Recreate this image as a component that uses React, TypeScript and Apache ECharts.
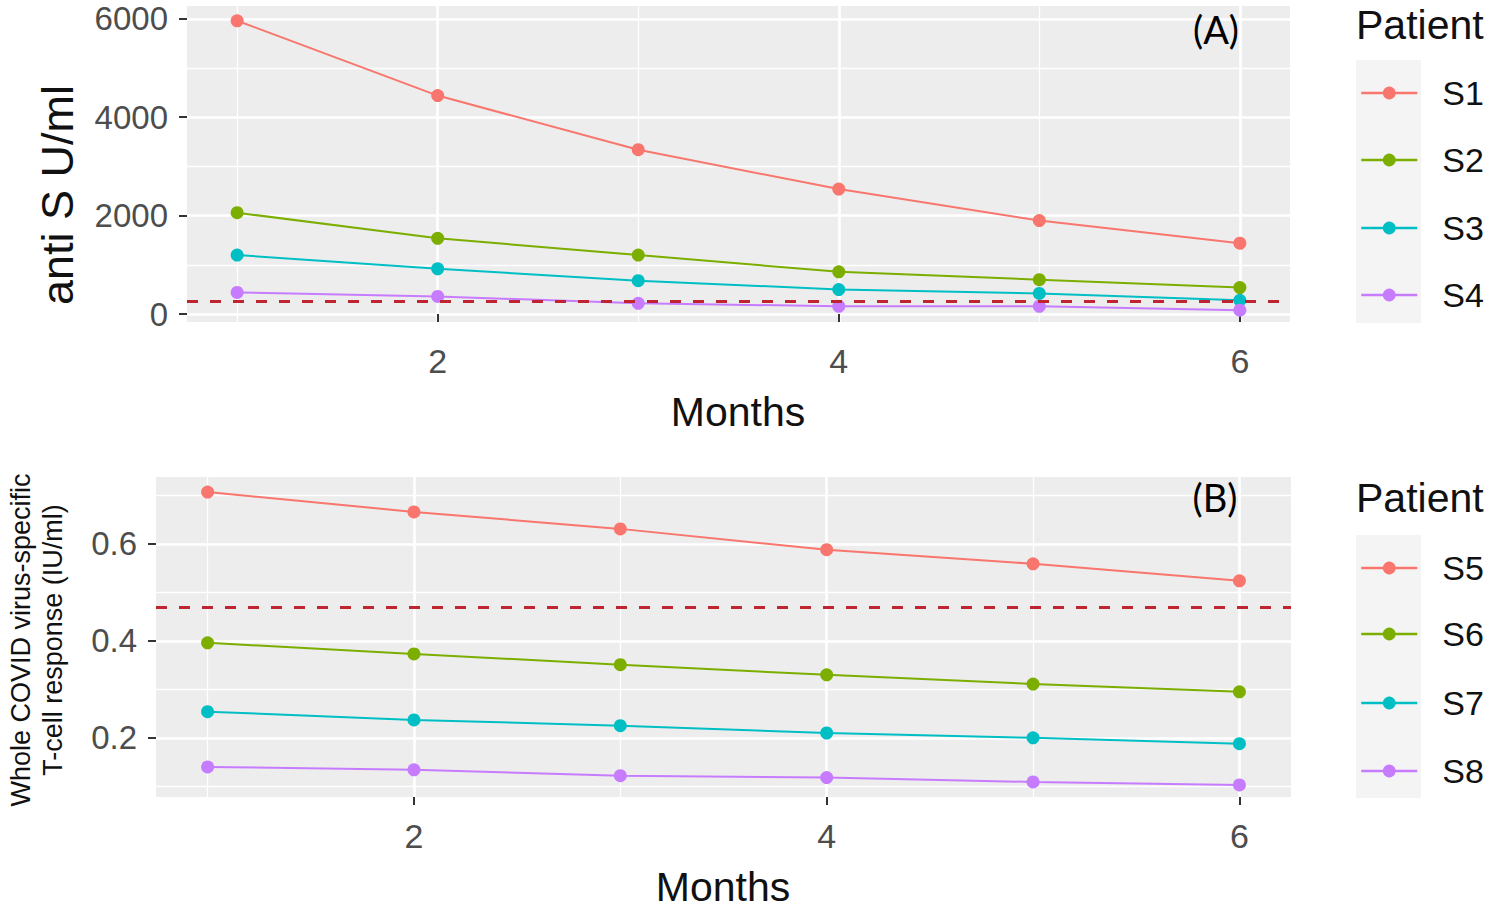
import React, { useEffect, useRef } from "react";
import * as echarts from "echarts";

// ---------- data ----------
const months = [1, 2, 3, 4, 5, 6];

const topNames = ["S1", "S2", "S3", "S4"];
const s1Values = [5960, 4440, 3340, 2540, 1900, 1440];
const s2Values = [2060, 1540, 1200, 860, 700, 540];
const s3Values = [1200, 920, 680, 500, 420, 280];
const s4Values = [440, 360, 220, 160, 160, 80];
const topThreshold = 264;

const bottomNames = ["S5", "S6", "S7", "S8"];
const s5Values = [0.707, 0.666, 0.631, 0.588, 0.559, 0.524];
const s6Values = [0.396, 0.373, 0.351, 0.330, 0.311, 0.295];
const s7Values = [0.254, 0.237, 0.225, 0.210, 0.200, 0.188];
const s8Values = [0.140, 0.134, 0.122, 0.118, 0.109, 0.103];
const bottomThreshold = 0.47;

const xMajorTicks = [2, 4, 6];
const xMinorTicks = [1, 3, 5];
const yTopMajorTicks = [0, 2000, 4000, 6000];
const yTopMinorTicks = [1000, 3000, 5000];
const yBottomMajorTicks = [0.2, 0.4, 0.6];
const yBottomMinorTicks = [0.1, 0.3, 0.5, 0.7];

const palette = ["#F8766D", "#7CAE00", "#00BFC4", "#C77CFF"];

// ---------- styles ----------
const FONT = "'Liberation Sans', Arial, sans-serif";
const PANEL_BG = "#EDEDED";
const KEY_BG = "#F4F4F4";
const TICK_COLOR = "#4D4D4D";
const DASH_COLOR = "#BE2530";

function majorX(gridIndex: number) {
  return {
    type: "value",
    gridIndex,
    min: 0.75,
    max: 6.25,
    axisLine: { show: false },
    axisTick: { show: true, length: 8, customValues: xMajorTicks, lineStyle: { color: "#333", width: 2 } },
    axisLabel: { show: true, customValues: xMajorTicks, fontSize: 34, color: TICK_COLOR, fontFamily: FONT, margin: 22 },
    splitLine: { show: true, lineStyle: { color: "#FFFFFF", width: 2.6 } },
  };
}
function minorX(gridIndex: number) {
  return {
    type: "value",
    gridIndex,
    min: 0.75,
    max: 6.25,
    axisLine: { show: false },
    axisTick: { show: false, customValues: xMinorTicks },
    axisLabel: { show: false, customValues: xMinorTicks },
    splitLine: { show: true, lineStyle: { color: "#FFFFFF", width: 1.3 } },
  };
}
function majorY(gridIndex: number, min: number, max: number, ticks: number[], fmt: (v: number) => string) {
  return {
    type: "value",
    gridIndex,
    min,
    max,
    axisLine: { show: false },
    axisTick: { show: true, length: 8, customValues: ticks, lineStyle: { color: "#333", width: 2 } },
    axisLabel: { show: true, customValues: ticks, fontSize: 33, color: TICK_COLOR, fontFamily: FONT, margin: 19, formatter: fmt },
    splitLine: { show: true, lineStyle: { color: "#FFFFFF", width: 2.6 } },
  };
}
function minorY(gridIndex: number, min: number, max: number, ticks: number[]) {
  return {
    type: "value",
    gridIndex,
    min,
    max,
    axisLine: { show: false },
    axisTick: { show: false, customValues: ticks },
    axisLabel: { show: false, customValues: ticks },
    splitLine: { show: true, lineStyle: { color: "#FFFFFF", width: 1.3 } },
  };
}

function makeSeries(name: string, values: number[], color: string, axisIndex: number, threshold: number | null) {
  const s: any = {
    type: "line",
    name,
    xAxisIndex: axisIndex,
    yAxisIndex: axisIndex,
    data: months.map((m, i) => [m, values[i]]),
    symbol: "circle",
    symbolSize: 13,
    showSymbol: true,
    lineStyle: { color, width: 2 },
    itemStyle: { color },
    z: 3,
  };
  if (threshold !== null) {
    s.markLine = {
      silent: true,
      symbol: "none",
      label: { show: false },
      lineStyle: { type: [11, 12], color: DASH_COLOR, width: 3 },
      data: [{ yAxis: threshold }],
    };
  }
  return s;
}

const topKeyY = [93, 160, 228, 295];
const bottomKeyY = [568, 634, 703, 771];

function makeLegend(name: string, y: number) {
  return {
    data: [name],
    left: 1360,
    top: y - 17,
    padding: 0,
    itemWidth: 56,
    itemHeight: 16,
    selectedMode: false,
    lineStyle: { width: 2.5 },
    textStyle: { fontSize: 34, color: "#111", fontFamily: FONT, padding: [0, 0, 0, 20] },
  };
}

export default function App() {
  const ref = useRef<HTMLDivElement>(null);

  useEffect(() => {
    if (!ref.current) return;
    const chart = echarts.init(ref.current, null, { renderer: "svg" });

    const topValues = [s1Values, s2Values, s3Values, s4Values];
    const bottomValues = [s5Values, s6Values, s7Values, s8Values];

    const series: any[] = [];
    topNames.forEach((n, i) => series.push(makeSeries(n, topValues[i], palette[i], 0, i === 0 ? topThreshold : null)));
    bottomNames.forEach((n, i) => series.push(makeSeries(n, bottomValues[i], palette[i], 1, i === 0 ? bottomThreshold : null)));

    const legends = [
      ...topNames.map((n, i) => makeLegend(n, topKeyY[i])),
      ...bottomNames.map((n, i) => makeLegend(n, bottomKeyY[i])),
    ];

    const option: any = {
      animation: false,
      backgroundColor: "#FFFFFF",
      grid: [
        { left: 187, top: 6, width: 1103, height: 316, show: true, backgroundColor: PANEL_BG, borderWidth: 0 },
        { left: 156, top: 477, width: 1135, height: 320, show: true, backgroundColor: PANEL_BG, borderWidth: 0 },
      ],
      xAxis: [majorX(0), majorX(1), minorX(0), minorX(1)],
      yAxis: [
        majorY(0, -160, 6260, yTopMajorTicks, (v: number) => String(v)),
        majorY(1, 0.078, 0.738, yBottomMajorTicks, (v: number) => v.toFixed(1)),
        minorY(0, -160, 6260, yTopMinorTicks),
        minorY(1, 0.078, 0.738, yBottomMinorTicks),
      ],
      legend: legends,
      series,
      graphic: [
        { type: "rect", shape: { x: 1356, y: 60, width: 65, height: 263 }, style: { fill: KEY_BG }, z: -1 },
        { type: "rect", shape: { x: 1356, y: 535, width: 65, height: 263 }, style: { fill: KEY_BG }, z: -1 },
        { type: "text", x: 1356, y: 25, style: { text: "Patient", fontSize: 41, fontFamily: FONT, fill: "#111", align: "left", verticalAlign: "middle" } },
        { type: "text", x: 1356, y: 498, style: { text: "Patient", fontSize: 41, fontFamily: FONT, fill: "#111", align: "left", verticalAlign: "middle" } },
        { type: "text", x: 738, y: 412, style: { text: "Months", fontSize: 41, fontFamily: FONT, fill: "#111", align: "center", verticalAlign: "middle" } },
        { type: "text", x: 723, y: 887, style: { text: "Months", fontSize: 41, fontFamily: FONT, fill: "#111", align: "center", verticalAlign: "middle" } },
        { type: "text", x: 57, y: 195, rotation: Math.PI / 2, style: { text: "anti S U/ml", fontSize: 45, fontFamily: FONT, fill: "#111", align: "center", verticalAlign: "middle" } },
        {
          type: "text", x: 37, y: 640, rotation: Math.PI / 2,
          style: { text: "Whole COVID virus-specific\nT-cell response (IU/ml)", fontSize: 27, lineHeight: 32, fontFamily: FONT, fill: "#111", align: "center", verticalAlign: "middle" },
        },
        { type: "text", x: 1216, y: 29, z: 10, style: { text: "(A)", fontSize: 38, fontFamily: "Lato, 'Open Sans', sans-serif", fill: "#000", align: "center", verticalAlign: "middle" } },
        { type: "text", x: 1215, y: 497, z: 10, style: { text: "(B)", fontSize: 38, fontFamily: "Lato, 'Open Sans', sans-serif", fill: "#000", align: "center", verticalAlign: "middle" } },
      ],
    };

    chart.setOption(option);
    return () => chart.dispose();
  }, []);

  return (
    <div
      ref={ref}
      style={{ position: "absolute", left: 0, top: 0, width: 1494, height: 917, background: "#fff" }}
    />
  );
}
